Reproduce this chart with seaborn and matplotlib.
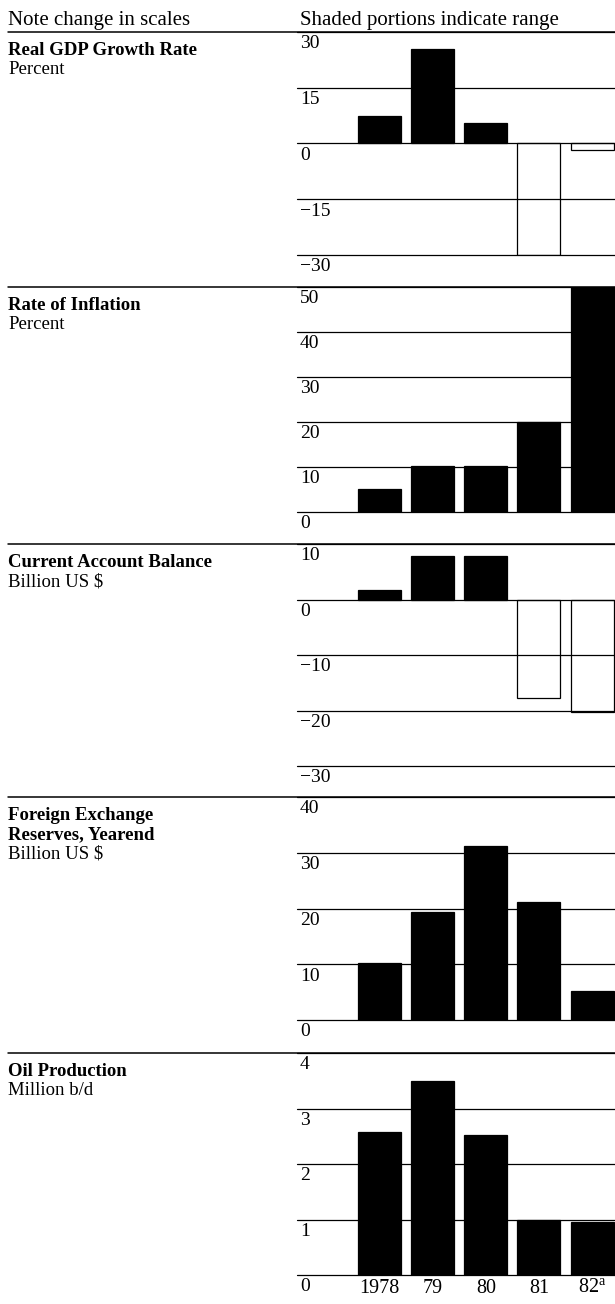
import numpy as np
import pandas as pd
import matplotlib
matplotlib.use("Agg")
import matplotlib.pyplot as plt
import seaborn as sns

years = ["1978", "79", "80", "81", "82$^{\\mathrm{a}}$"]

gdp_growth = [7.4, 25.3, 5.5, -30.0, -1.8]
inflation = [5.0, 10.3, 10.3, 20.1, 50.0]
current_account = [1.7, 7.9, 7.9, -17.8, -20.3]
fx_reserves = [10.2, 19.3, 31.2, 21.1, 5.2]
oil_production = [2.58, 3.5, 2.53, 1.0, 0.96]

titles = [
    ["Real GDP Growth Rate"],
    ["Rate of Inflation"],
    ["Current Account Balance"],
    ["Foreign Exchange", "Reserves, Yearend"],
    ["Oil Production"],
]
units = ["Percent", "Percent", "Billion US $", "Billion US $", "Million b/d"]
ticks = [
    [30, 15, 0, -15, -30],
    [50, 40, 30, 20, 10, 0],
    [10, 0, -10, -20, -30],
    [40, 30, 20, 10, 0],
    [4, 3, 2, 1, 0],
]
series = [gdp_growth, inflation, current_account, fx_reserves, oil_production]

sns.set_theme(style="white")
plt.rcParams["font.family"] = ["Liberation Serif", "DejaVu Serif"]
plt.rcParams["mathtext.fontset"] = "custom"
plt.rcParams["mathtext.rm"] = "Liberation Serif"
plt.rcParams["axes.unicode_minus"] = True
plt.rcParams["text.color"] = "black"
plt.rcParams["xtick.color"] = "black"

W, H = 615, 1304
fig = plt.figure(figsize=(W / 100, H / 100), dpi=100)
fig.patch.set_facecolor("white")

# panel extents in pixels (top, bottom)
panel_px = [(31.7, 255), (287, 512), (544, 766), (797, 1020), (1053, 1275)]
ax_left = 297
fs = 13.5

fig.text(8 / W, 1 - 25 / H, "Note change in scales", fontsize=15, va="baseline")
fig.text(300 / W, 1 - 25 / H, "Shaded portions indicate range", fontsize=15, va="baseline")

for i, vals in enumerate(series):
    top, bot = panel_px[i]
    ax = fig.add_axes([ax_left / W, 1 - bot / H, (W - ax_left) / W, (bot - top) / H])
    ax.patch.set_alpha(0)
    df = pd.DataFrame({"year": years, "value": vals})
    df["sign"] = np.where(df["value"] >= 0, "pos", "neg")
    sns.barplot(data=df, x="year", y="value", hue="sign", order=years,
                palette={"pos": "black", "neg": "white"}, dodge=False, width=0.81,
                edgecolor="black", linewidth=0.9, legend=False, ax=ax, zorder=2)
    tk = ticks[i]
    ax.set_ylim(min(tk), max(tk))
    ax.set_xlim(-1.55, 4.43)
    for s in ax.spines.values():
        s.set_visible(False)
    ax.set_yticks([])
    ax.set_ylabel("")
    ax.set_xlabel("")
    for t in tk:
        ax.axhline(t, color="black", lw=0.9, zorder=3, clip_on=False)
        lab = str(t).replace("-", "\u2212")
        ax.annotate(lab, xy=(0, t), xycoords=ax.get_yaxis_transform(),
                    xytext=(2, -2.5), textcoords="offset points",
                    ha="left", va="top", fontsize=14)
    # separator across whole width at top of panel
    ax.axhline(max(tk), xmin=-(ax_left - 8) / (W - ax_left), xmax=1,
               color="black", lw=1.1, clip_on=False, zorder=3)
    # titles
    y0 = top + 23
    for line in titles[i]:
        fig.text(8 / W, 1 - y0 / H, line, fontsize=fs, fontweight="bold", va="baseline")
        y0 += 19
    fig.text(8 / W, 1 - y0 / H, units[i], fontsize=fs, va="baseline")
    if i == len(series) - 1:
        ax.set_xticks(range(len(years)))
        ax.set_xticklabels(years, fontsize=14.5)
        ax.tick_params(axis="x", length=0, pad=3)
    else:
        ax.set_xticks([])

fig.savefig("out.png", dpi=100, facecolor="white")
